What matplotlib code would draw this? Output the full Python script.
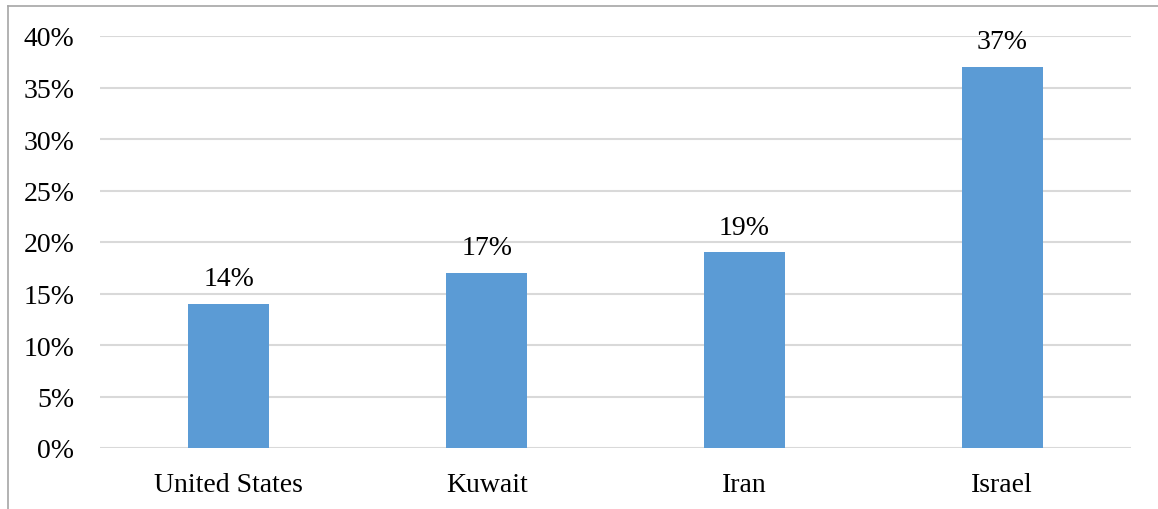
import matplotlib
matplotlib.use("Agg")
import matplotlib.pyplot as plt
from matplotlib.lines import Line2D
from matplotlib.ticker import FuncFormatter, MultipleLocator

categories = ["United States", "Kuwait", "Iran", "Israel"]
values = [14, 17, 19, 37]
value_labels = ["14%", "17%", "19%", "37%"]

plt.rcParams['font.family'] = ['Liberation Serif', 'DejaVu Serif']

W, H = 1158, 510
fig = plt.figure(figsize=(W / 100, H / 100), dpi=100)
ax = fig.add_axes([100 / W, 61 / H, (1131 - 100) / W, (449 - 37) / H])

x = list(range(len(categories)))
bars = ax.bar(x, values, width=0.314, color="#5B9BD5", zorder=3)

for xi, v, lab in zip(x, values, value_labels):
    ax.annotate(lab, (xi, v), xytext=(0, 9), textcoords="offset points",
                ha="center", va="bottom", fontsize=20, color="#000000")

ax.set_xlim(-0.5, len(categories) - 0.5)
ax.set_ylim(0, 40)
ax.yaxis.set_major_locator(MultipleLocator(5))
ax.yaxis.set_major_formatter(FuncFormatter(lambda v, p: f"{int(v)}%"))
ax.set_xticks(x)
ax.set_xticklabels(categories)
ax.tick_params(axis="both", length=0, labelsize=20, colors="#000000")
ax.tick_params(axis="y", pad=18.5)
ax.tick_params(axis="x", pad=17)
ax.grid(axis="y", color="#D9D9D9", linewidth=1.5, zorder=0)
for s in ax.spines.values():
    s.set_visible(False)

# outer chart border (top and left visible)
fig.add_artist(Line2D([8 / W, 1.0], [1 - 7 / H, 1 - 7 / H], transform=fig.transFigure,
                      color="#A6A6A6", linewidth=1.2))
fig.add_artist(Line2D([8 / W, 8 / W], [0, 1 - 7 / H], transform=fig.transFigure,
                      color="#A6A6A6", linewidth=1.2))

fig.savefig("out.png", dpi=100)
